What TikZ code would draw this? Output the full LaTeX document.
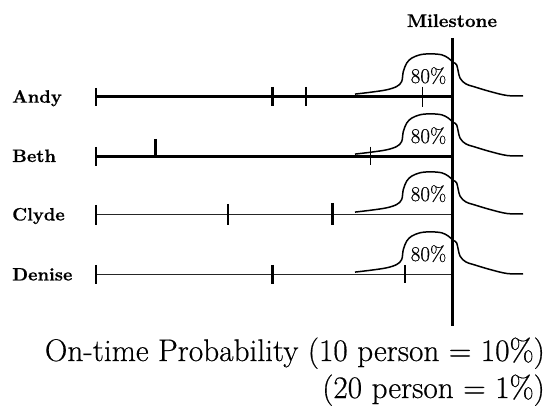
\documentclass[tikz,border=0pt]{standalone}
\usepackage{fontspec}
\newfontfamily\heavyrm{Latin Modern Roman}[FakeBold=0.5]
\newfontfamily\heavybf{lmroman10-bold.otf}[FakeBold=0.5]
\begin{document}
\begin{tikzpicture}[x=1pt,y=-1pt,
  namelabel/.style={anchor=base west, inner sep=0pt, font=\fontsize{18}{20}\heavybf\selectfont},
  pctlabel/.style={anchor=base, inner sep=0pt, font=\fontsize{21}{24}\heavyrm\selectfont},
  caption/.style={anchor=base east, inner sep=0pt, font=\fontsize{31.3}{36}\heavyrm\selectfont},
  heavyline/.style={line width=2.6pt},
  lightline/.style={line width=1.5pt, black!85},
  thicktick/.style={line width=2.8pt},
  thintick/.style={line width=1.4pt},
  bell/.style={line width=1.5pt, line join=round},
]
\useasboundingbox (0,0) rectangle (559,411);

% bell curves, one per row
\foreach \r in {96.5,156.5,214.5,274.5}{
  \begin{scope}[yshift=-\r pt]
    \draw[bell] plot[smooth, tension=0.55] coordinates {
      (355,-2.4) (371.7,-4.4) (386.7,-6.7) (396.7,-10) (401.7,-15) (403.3,-25)
      (406.7,-33.4) (411.7,-38.4) (420,-41.7) (430,-42.7) (441.7,-41.7)
      (448.3,-38.4) (453.3,-34) (456.7,-31.5) (460,-18.4) (466,-12.5)
      (473.3,-10) (490,-5) (507,-1) (523,-0.6)};
    \node[pctlabel] (p\r) at (428.5,-13.5) {80\%};
  \end{scope}
}

% names
\node[namelabel] (andy)   at (12,102.7) {Andy};
\node[namelabel] (beth)   at (12,162)   {Beth};
\node[namelabel] (clyde)  at (12,220.5) {Clyde};
\node[namelabel] (denise) at (12,280.5) {Denise};

% row lines
\coordinate (a0) at (96,96.5);  \coordinate (a1) at (451,96.5);
\coordinate (b0) at (96,156.5); \coordinate (b1) at (451,156.5);
\coordinate (c0) at (96,214.5); \coordinate (c1) at (451,214.5);
\coordinate (d0) at (96,274.5); \coordinate (d1) at (451,274.5);
\draw[heavyline] (a0) -- (a1);
\draw[heavyline] (b0) -- (b1);
\draw[lightline] (c0) -- (c1);
\draw[lightline] (d0) -- (d1);

% ticks: Andy
\draw[thicktick] (96,88) -- (96,106);
\draw[thicktick] (272.7,87) -- (272.7,106);
\draw[thintick]  (306,87) -- (306,106);
\draw[thintick]  (422.7,86.7) -- (422.7,106.7);
% Beth
\draw[thicktick] (96,147) -- (96,166);
\draw[thicktick] (155.3,139) -- (155.3,157.5);
\draw[thintick]  (370.7,146.7) -- (370.7,165);
% Clyde
\draw[thicktick] (96,205) -- (96,225);
\draw[thicktick] (228,204) -- (228,225);
\draw[thicktick] (332.7,203) -- (332.7,225);
% Denise
\draw[thicktick] (96,265) -- (96,284);
\draw[thicktick] (272.7,265) -- (272.7,284);
\draw[thicktick] (405,265) -- (405,282.7);

% milestone
\node[anchor=base, inner sep=0pt, font=\fontsize{18.4}{20}\heavybf\selectfont] (ms) at (452,27) {Milestone};
\coordinate (mtop) at (452.8,38);
\coordinate (mbot) at (452.8,326);
\draw[line width=3pt] (mtop) -- (mbot);

% caption
\node[caption] (cap1) at (545,361) {On-time Probability (10 person = 10\%)};
\node[caption] (cap2) at (545,398) {(20 person = 1\%)};
\end{tikzpicture}
\end{document}
